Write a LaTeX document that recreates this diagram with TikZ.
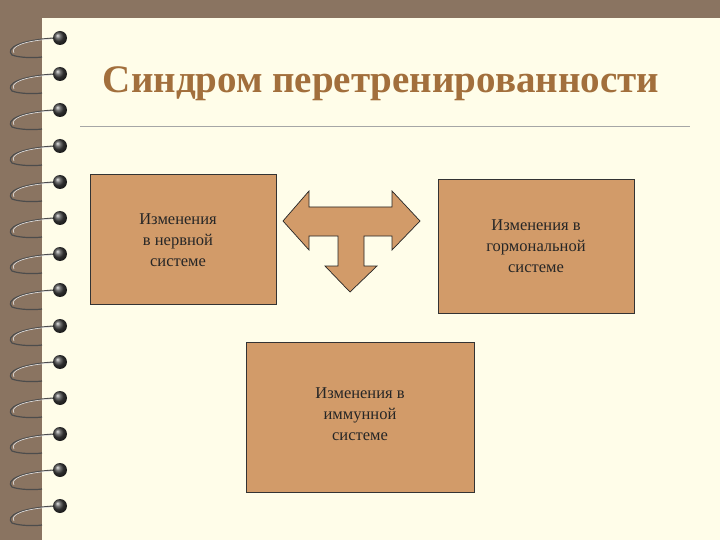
\documentclass[tikz,border=0pt]{standalone}
\usepackage{fontspec}
\setmainfont{Liberation Serif}
\begin{document}
\begin{tikzpicture}[x=1pt,y=-1pt,
  box/.style={draw=black!80,fill=boxc,line width=0.8pt},
  lbl/.style={align=center,font=\fontsize{16.5}{21}\selectfont,text=black!85}]
\definecolor{bg}{HTML}{8A7461}
\definecolor{paper}{HTML}{FFFDE9}
\definecolor{boxc}{HTML}{D29B69}
\definecolor{titlec}{HTML}{A26F3C}
\fill[bg] (0,0) rectangle (720,540);
\useasboundingbox (0,0) rectangle (720,540);
\fill[paper] (42,18) rectangle (720,540);
% spiral rings
\foreach \i in {0,...,13}{
  \pgfmathsetmacro{\yy}{38+\i*36}
  \draw[black!70,line width=1.2pt] (55,\yy) .. controls (20,\yy+2) and (5,\yy+10) .. (12,\yy+17) .. controls (20,\yy+20) and (35,\yy+20) .. (42,\yy+19);
  \draw[white!80!gray,line width=0.6pt] (52,\yy+1) .. controls (22,\yy+3) and (10,\yy+9) .. (14,\yy+15);
  \shade[ball color=black!75] (60,\yy) circle (7);
}
% title
\node[font=\fontsize{39}{42}\selectfont\bfseries,text=titlec] (title) at (381,84) {Синдром перетренированности};
\draw[gray!70,line width=0.8pt] (80,126) coordinate (l1) -- (690,126) coordinate (l2);
% boxes
\draw[box] (90,174) rectangle (276,304);
\node[lbl] (b1) at (178,240) {Изменения\\в нервной\\системе};
\draw[box] (438,179) rectangle (634,313);
\node[lbl] (b2) at (536,246) {Изменения в\\гормональной\\системе};
\draw[box] (246,342) rectangle (474,492);
\node[lbl] (b3) at (360,414) {Изменения в\\иммунной\\системе};
% T arrow
\draw[fill=boxc,draw=black!85,line width=0.7pt,line join=miter]
 (283,221) -- (309,191) -- (309,207) -- (392,207) -- (392,191) -- (420,221)
 -- (392,250) -- (392,236) -- (364,236) -- (364,266) -- (377,266) -- (350,292)
 -- (325,266) -- (338,266) -- (338,236) -- (309,236) -- (309,250) -- cycle;
\end{tikzpicture}
\end{document}
